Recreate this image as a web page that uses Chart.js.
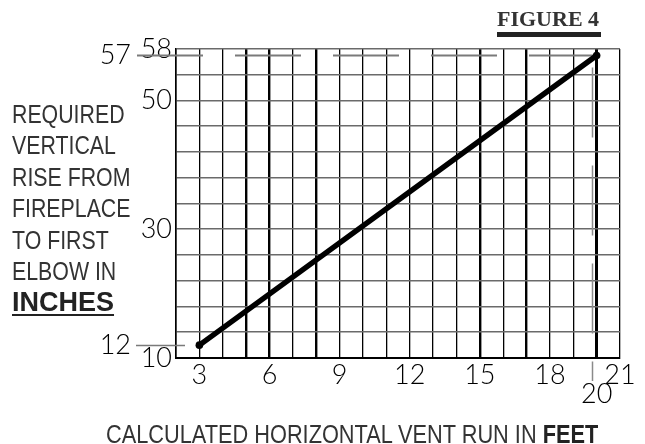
<!DOCTYPE html>
<html><head><meta charset="utf-8">
<script src="https://cdn.jsdelivr.net/npm/chart.js@4.4.1/dist/chart.umd.min.js"></script>
<style>
html,body{margin:0;padding:0;background:#fff;}
#wrap{position:relative;width:645px;height:444px;overflow:hidden;background:#fff;}
#c{position:absolute;left:0;top:0;}
.lbl{position:absolute;font-family:"Liberation Sans",Arial,sans-serif;color:#333;white-space:nowrap;transform-origin:0 0;}
#ylab{left:12px;top:99px;font-size:26px;line-height:31.4px;transform:scaleX(0.82);}
#yunit{left:12px;top:287px;font-size:27px;line-height:31.4px;font-weight:bold;color:#222;text-decoration:underline;text-decoration-thickness:2px;text-underline-offset:3px;}
#xlab{left:106px;top:419px;font-size:25px;line-height:30px;transform:scaleX(0.87);}
#xlab b{color:#222;}
#fig{position:absolute;left:497px;top:8px;font-family:"Liberation Serif","Times New Roman",serif;font-weight:bold;font-size:22px;line-height:22px;color:#333;white-space:nowrap;}
#figline{position:absolute;left:497px;top:32px;width:104px;height:5px;background:#222;}
</style></head><body>
<div id="wrap">
<canvas id="c" width="645" height="444"></canvas>
<div class="lbl" id="ylab">REQUIRED<br>VERTICAL<br>RISE FROM<br>FIREPLACE<br>TO FIRST<br>ELBOW IN</div>
<div class="lbl" id="yunit">INCHES</div>
<div class="lbl" id="xlab">CALCULATED HORIZONTAL VENT RUN IN <b>FEET</b></div>
<div id="fig">FIGURE 4</div>
<div id="figline"></div>
</div>
<script>
// ---- data ----
const xMin = 2, xMax = 21;          // horizontal vent run, feet
const yMin = 10, yMax = 58;         // vertical rise, inches
const xTickLabels = [3, 6, 9, 12, 15, 18, 20, 21];
const xLoweredLabels = [20];
const yInnerLabels = [10, 30, 50, 58];
const yOuterLabels = [12, 57];
const runFeet = [3, 20];
const riseInches = [12, 57];
const thickFeet = [5, 6, 8, 15, 17];
const heavyFeet = [20];
const guideRise = [57, 12];
const guideRun = [20];

const tickFont = {family: 'Lato', size: 27, weight: '300', lineHeight: 0.73};

const guides = {
  id: 'guides',
  beforeDatasetsDraw(chart) {
    const {ctx, chartArea} = chart;
    const xs = chart.scales.x, ys = chart.scales.y;
    ctx.save();
    ctx.strokeStyle = '#7a7a7a';
    ctx.lineWidth = 2;
    ctx.setLineDash([66, 32]);
    const y57 = Math.round(ys.getPixelForValue(guideRise[0])) + 0.5;
    ctx.beginPath();
    ctx.moveTo(137, y57);
    ctx.lineTo(xs.getPixelForValue(guideRun[0]), y57);
    ctx.stroke();
    ctx.setLineDash([]);
    ctx.lineWidth = 1.5;
    const y12 = Math.round(ys.getPixelForValue(guideRise[1])) + 0.5;
    ctx.beginPath();
    ctx.moveTo(136, y12);
    ctx.lineTo(chartArea.left + 9, y12);
    ctx.stroke();
    const x20 = Math.round(xs.getPixelForValue(guideRun[0])) - 4.5;
    ctx.strokeStyle = '#8a8a8a';
    ctx.setLineDash([70, 28]);
    ctx.beginPath();
    ctx.moveTo(x20, ys.getPixelForValue(guideRise[0]) + 12);
    ctx.lineTo(x20, chartArea.bottom + 23);
    ctx.stroke();
    ctx.restore();
  }
};

const fixedTicks = arr => s => { s.ticks = arr.map(v => ({value: v})); };

new Chart(document.getElementById('c'), {
  type: 'line',
  data: {
    datasets: [{
      data: runFeet.map((x, i) => ({x, y: riseInches[i]})),
      borderColor: '#000',
      backgroundColor: '#000',
      borderWidth: 5.5,
      borderCapStyle: 'round',
      pointRadius: 3.8,
      pointBackgroundColor: '#000',
      pointBorderWidth: 0,
      xAxisID: 'x', yAxisID: 'y',
      clip: false
    }]
  },
  options: {
    responsive: false,
    animation: false,
    devicePixelRatio: 1,
    layout: {padding: {left: 75, right: 25, top: 49, bottom: 26}},
    plugins: {legend: {display: false}, tooltip: {enabled: false}, title: {display: false}},
    scales: {
      x: {
        type: 'linear', position: 'bottom', min: xMin, max: xMax, weight: 0,
        ticks: {display: false, stepSize: 1},
        grid: {
          color: '#000',
          lineWidth: c => (c.tick && heavyFeet.includes(c.tick.value)) ? 3 : (c.tick && thickFeet.includes(c.tick.value)) ? 2.4 : 1.3,
          drawTicks: false
        },
        border: {display: true, color: '#000', width: 2},
        afterFit: s => { s.height = 0; }
      },
      xl: {
        type: 'linear', position: 'bottom', min: xMin, max: xMax, weight: 1,
        afterBuildTicks: fixedTicks(xTickLabels),
        ticks: {
          font: tickFont, color: '#000', padding: 7, autoSkip: false, maxRotation: 0,
          callback: v => xLoweredLabels.includes(v) ? ['', String(v)] : String(v)
        },
        grid: {display: false, drawTicks: false},
        border: {display: false},
        afterFit: s => { s.height = 60; }
      },
      y: {
        type: 'linear', position: 'left', min: yMin, max: yMax, weight: 0,
        ticks: {display: false, stepSize: 4},
        grid: {color: '#6a6a6a', lineWidth: 1.6, drawTicks: false},
        border: {display: true, color: '#000', width: 1.6},
        afterFit: s => { s.width = 0; }
      },
      yIn: {
        type: 'linear', position: 'left', min: yMin, max: yMax, weight: 1,
        afterBuildTicks: fixedTicks(yInnerLabels),
        ticks: {font: tickFont, color: '#000', padding: 4, autoSkip: false},
        grid: {display: false, drawTicks: false},
        border: {display: false},
        afterFit: s => { s.width = 41; }
      },
      yOut: {
        type: 'linear', position: 'left', min: yMin, max: yMax, weight: 2,
        afterBuildTicks: fixedTicks(yOuterLabels),
        ticks: {font: tickFont, color: '#000', padding: 4, autoSkip: false},
        grid: {display: false, drawTicks: false},
        border: {display: false},
        afterFit: s => { s.width = 60; }
      }
    }
  },
  plugins: [guides]
});
</script>
</body></html>
